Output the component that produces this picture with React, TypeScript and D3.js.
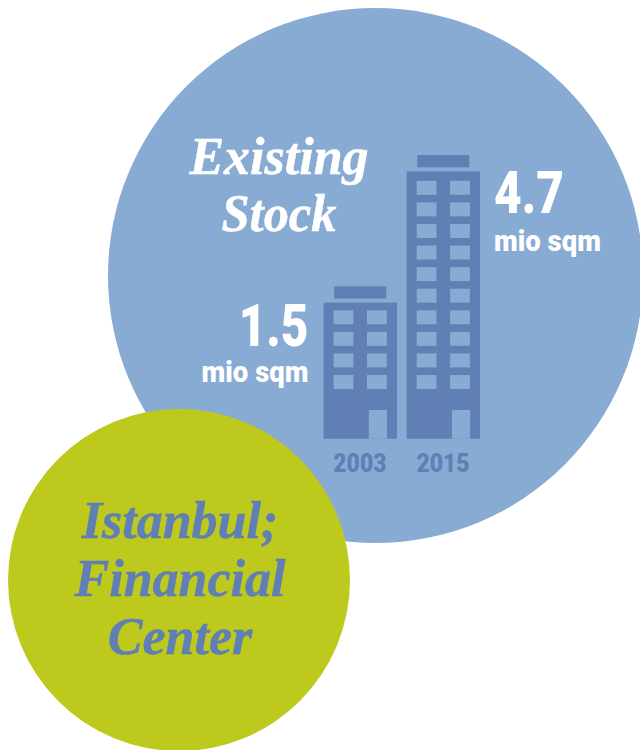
import React from "react";
import * as d3 from "d3";

const years = ["2003", "2015"];
const values = ["1.5", "4.7"];
const floors = [4, 10];
const unit = "mio sqm";
const titleLines = ["Existing", "Stock"];
const badgeLines = ["Istanbul;", "Financial", "Center"];

const BLUE = "#88abd4";
const DARK = "#5f7fb5";
const GREEN = "#bec91e";

const xBuilding = d3.scaleOrdinal<string, number>().domain(years).range([323.6, 406.7]);
// floor index (0 = lowest row of windows) to the top of that row
const yFloor = d3.scaleLinear().domain([0, 9]).range([375, 180.8]);

const W = 73.4;
const BOTTOM = 438.7;

const cond = (x: number, y: number, sx: number, anchor: string, size: number, fill: string, text: string, weight = 900) => (
  <text
    transform={`translate(${x},${y}) scale(${sx},1)`}
    textAnchor={anchor}
    fontFamily="Roboto"
    fontWeight={weight}
    fontSize={size}
    fill={fill}
  >
    {text}
  </text>
);

const serif = (x: number, y: number, size: number, fill: string, text: string, sx = 1) => (
  <text
    key={text}
    transform={`translate(${x},${y}) scale(${sx},1)`}
    textAnchor="middle"
    fontFamily="Liberation Serif"
    fontStyle="italic"
    fontWeight={700}
    fontSize={size}
    fill={fill}
    stroke={fill}
    strokeWidth={0.5}
  >
    {text}
  </text>
);

export default function App() {
  return (
    <svg width={640} height={750} style={{ position: "absolute", left: 0, top: 0, background: "#fff" }}>
      <circle cx={375.5} cy={275.5} r={267.5} fill={BLUE} />
      <circle cx={179} cy={580} r={171} fill={GREEN} />

      {years.map((year, i) => {
        const x = xBuilding(year);
        const top = yFloor(floors[i] - 1) - (i === 0 ? 7.7 : 9.5);
        const rows = d3.range(floors[i]);
        return (
          <g key={year}>
            <rect x={x + 10.6} y={top - 16.3} width={52} height={12.3} fill={DARK} />
            <rect x={x} y={top} width={W} height={BOTTOM - top} fill={DARK} />
            {rows.map((r) =>
              [10, 43.4].map((dx) => (
                <rect key={dx} x={x + dx} y={yFloor(r)} width={19.8} height={14} fill={BLUE} />
              ))
            )}
            <rect x={x + 45.2} y={410} width={18.2} height={BOTTOM - 410} fill={BLUE} />
            {cond(x + 36.3, 472, 0.865, "middle", 26.5, DARK, year)}
          </g>
        );
      })}

      {cond(308.5, 346, 0.81, "end", 59, "#fff", values[0])}
      {cond(308.5, 382, 0.95, "end", 29, "#fff", unit)}
      {cond(494, 213, 0.81, "start", 59, "#fff", values[1])}
      {cond(494, 251, 0.95, "start", 29, "#fff", unit)}

      {titleLines.map((t, i) => serif(279, 174 + i * 57, 52, "#fff", t, i === 1 ? 0.97 : 1))}
      {badgeLines.map((t, i) => serif(180, 538 + i * 58, 52, DARK, t))}
    </svg>
  );
}
